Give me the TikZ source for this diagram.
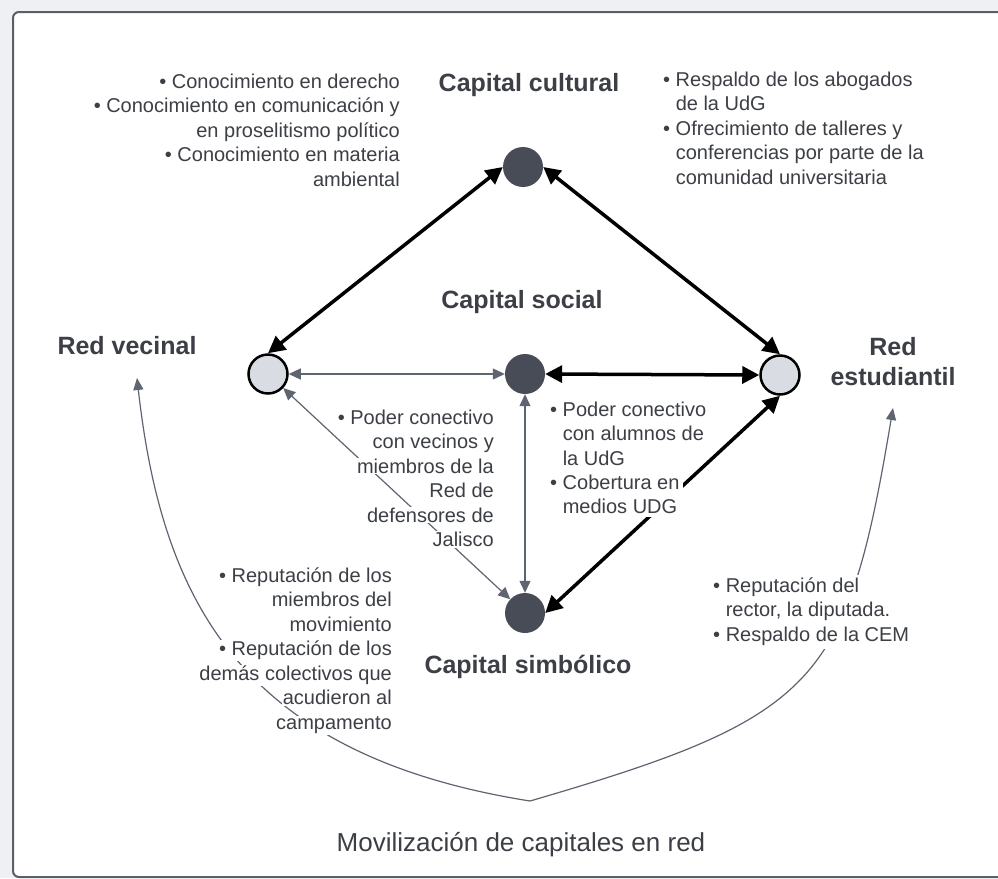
\documentclass[tikz,border=0pt]{standalone}
\usepackage{fontspec}
\setmainfont{Liberation Sans}
\usetikzlibrary{arrows.meta}
\definecolor{bgGray}{HTML}{EEF0F3}
\definecolor{frameGray}{HTML}{5A5E66}
\definecolor{darkFill}{HTML}{474C57}
\definecolor{lightFill}{HTML}{D9DDE3}
\definecolor{edgeGray}{HTML}{5E6571}
\definecolor{textGray}{HTML}{3C3F45}
\newcommand{\wl}[1]{\colorbox{white}{#1}}
\setlength{\fboxsep}{1pt}

\begin{document}
\begin{tikzpicture}
[x=1pt,y=-1pt,
  nodeDark/.style={shape=circle,fill=darkFill,minimum size=40pt,inner sep=0pt},%
  nodeLight/.style={shape=circle,fill=lightFill,draw=black,line width=2.5pt,minimum size=39pt,inner sep=0pt},%
  capLabel/.style={font=\fontsize{25}{30}\selectfont\bfseries,text=textGray,align=center},%
  noteText/.style={font=\fontsize{20}{24.5}\selectfont,text=textGray,inner sep=0pt},%
  thickEdge/.style={line width=3.5pt,{Triangle[length=17pt,width=17pt]}-{Triangle[length=17pt,width=17pt]}},%
  thinEdge/.style={line width=1.2pt,draw=edgeGray,{Triangle[length=12pt,width=11pt]}-{Triangle[length=12pt,width=11pt]}},%
  curveEdge/.style={line width=1.2pt,draw=edgeGray,-{Triangle[length=12pt,width=10pt]}}]
\useasboundingbox (0,0) rectangle (998,878);
\clip (0,0) rectangle (998,878);
%% frame
\fill[bgGray] (0,0) rectangle (998,878);
\draw[frameGray,line width=2pt,fill=white,rounded corners=6pt] (13,12) rectangle (1010,877);
%% nodes or vertices
\foreach \nodename/\x/\y/\kind in {
  cultural/523/167/nodeDark, social/525/374/nodeDark, simbolico/525/613/nodeDark,
  vecinal/268/374/nodeLight, estudiantil/780/375/nodeLight}
{
  \node[\kind] (\nodename) at (\x,\y) {};
}
%% labels
\node[capLabel] (culturalLabel) at (529,85) {Capital cultural};
\node[capLabel] (socialLabel) at (522,302) {Capital social};
\node[capLabel] (simbolicoLabel) at (528,667) {Capital simbólico};
\node[capLabel] (vecinalLabel) at (127,346) {Red vecinal};
\node[capLabel] (estudiantilLabel) at (893,362) {Red\\estudiantil};
\node[capLabel,font=\fontsize{26}{30}\selectfont] (title) at (521,845) {Movilización de capitales en red};
%% curves towards the networks
\coordinate (base) at (530,801);
\coordinate (tipV) at (137,378);
\coordinate (tipE) at (893,408);
\draw[curveEdge] (base) .. controls (240,755) and (162,600) .. (tipV);
\draw[curveEdge] (base) .. controls (818,717) and (847,684) .. (tipE);
%% edges or lines
\draw[thickEdge] (vecinal.north) -- (cultural.west);
\draw[thickEdge] (cultural.east) -- (estudiantil.north);
\draw[thickEdge] (social.east) -- (estudiantil.west);
\draw[thickEdge] (simbolico.east) -- (estudiantil.south);
\draw[thinEdge] (vecinal) -- (social);
\draw[thinEdge] (social) -- (simbolico);
\draw[thinEdge] (vecinal) -- (simbolico);
%% notes
\node[noteText,anchor=north east,align=right] (culturalVecinal) at (400,73.5)
  {• Conocimiento en derecho\\• Conocimiento en comunicación y\\en proselitismo político\\• Conocimiento en materia\\ambiental};
\node[noteText,anchor=north west,align=left] (culturalEstudiantil) at (663,71.5)
  {• Respaldo de los abogados\\\phantom{• }de la UdG\\• Ofrecimiento de talleres y\\\phantom{• }conferencias por parte de la\\\phantom{• }comunidad universitaria};
\node[noteText,anchor=north east,align=right] (socialVecinal) at (495,408.5)
  {\wl{• Poder conectivo}\\\wl{con vecinos y}\\\wl{miembros de la}\\\wl{Red de}\\\wl{defensores de}\\\wl{Jalisco}};
\node[noteText,anchor=north west,align=left] (socialEstudiantil) at (550,401.5)
  {• Poder conectivo\\\phantom{• }con alumnos de\\\phantom{• }la UdG};
\node[noteText,anchor=north west,align=left,fill=white,inner sep=3pt] (mediosUdg) at (547,471.5)
  {• Cobertura en\\\phantom{• }medios UDG};
\node[noteText,anchor=north east,align=right] (simbolicoVecinal) at (393,566.5)
  {\wl{• Reputación de los}\\\wl{miembros del}\\\wl{movimiento}\\\wl{• Reputación de los}\\\wl{demás colectivos que}\\\wl{acudieron al}\\\wl{campamento}};
\node[noteText,anchor=north west,align=left,fill=white,inner sep=3pt] (simbolicoEstudiantil) at (710,574.5)
  {• Reputación del\\\phantom{• }rector, la diputada.\\• Respaldo de la CEM};
\end{tikzpicture}
\end{document}
